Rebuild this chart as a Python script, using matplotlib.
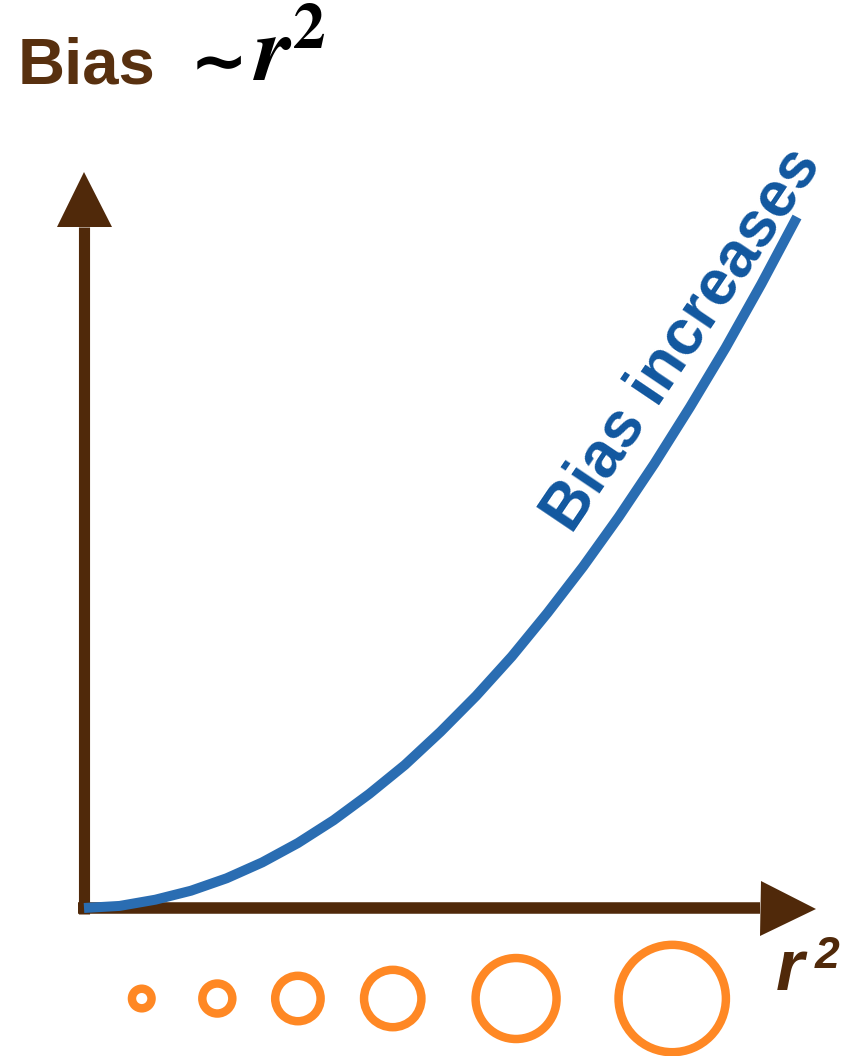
import matplotlib
matplotlib.use("Agg")
import matplotlib.pyplot as plt

# ---- data ----
r_vals = [0.00, 0.05, 0.10, 0.15, 0.20, 0.25, 0.30, 0.35, 0.40, 0.45, 0.50,
          0.55, 0.60, 0.65, 0.70, 0.75, 0.80, 0.85, 0.90, 0.95, 1.00]
bias_vals = [0.000, 0.003, 0.012, 0.025, 0.043, 0.066, 0.094, 0.127, 0.165, 0.207, 0.255,
             0.307, 0.364, 0.427, 0.494, 0.566, 0.643, 0.725, 0.811, 0.903, 1.000]
circle_pos = [0.081, 0.187, 0.300, 0.433, 0.606, 0.825]
circle_diam_pt = [14.1, 21.6, 32.7, 41.3, 58.3, 77.3]
circle_level = -0.131

title_text = "Bias"
title_tilde = "\u223c"
title_math = r"$\mathbfit{r}^{\mathbf{2}}$"
curve_label = "Bias increases"
x_label = "r"
x_label_sup = "2"

BROWN = "#50290A"
TITLE_BROWN = "#58300F"
BLUE = "#2A6DB2"
TEXT_BLUE = "#11579F"
ORANGE = "#FF8824"

W, H = 856, 1056
plt.rcParams["mathtext.fontset"] = "stix"
fig = plt.figure(figsize=(W / 100, H / 100), dpi=100)
ax = fig.add_axes([0, 0, 1, 1])
ax.set_xlim(-84 / 713, (W - 84) / 713)
ax.set_ylim(-(H - 908) / 691, 908 / 691)
ax.axis("off")

# axes with arrows
ax.plot([-0.008, 0.948], [0, 0], color=BROWN, lw=8.3, solid_capstyle="butt", zorder=2)
ax.plot([0, 0], [-0.0087, 0.9855], color=BROWN, lw=8.0, solid_capstyle="butt", zorder=2)
ax.plot([0.9867], [-0.002], marker=">", markersize=39.6, color=BROWN, markeredgewidth=0, zorder=2)
ax.plot([0], [1.026], marker="^", markersize=39.6, color=BROWN, markeredgewidth=0, zorder=2)

# curve
ax.plot(r_vals, bias_vals, color=BLUE, lw=7.2, solid_capstyle="butt",
        solid_joinstyle="round", zorder=3)

# label along the curve
ax.text(0.684, 0.540, curve_label, rotation=56, rotation_mode="anchor",
        ha="left", va="baseline", fontsize=46, fontweight="bold",
        family="Liberation Sans", color=TEXT_BLUE, zorder=4)

# circles
ax.scatter(circle_pos, [circle_level] * len(circle_pos),
           s=[d ** 2 for d in circle_diam_pt], facecolors="none",
           edgecolors=ORANGE, linewidths=6.1, zorder=3)

# title
fig.text(18 / W, 1 - 83 / H, title_text, ha="left", va="baseline",
         fontsize=47, fontweight="bold", family="Liberation Sans", color=TITLE_BROWN)
fig.text(190 / W, 1 - 58 / H, title_tilde, ha="left", va="center_baseline",
         fontsize=50, fontweight="bold", family="DejaVu Sans", color="black")
fig.text(253 / W, 1 - 82 / H, title_math, ha="left", va="baseline",
         fontsize=67, color="black")

# x label
fig.text(776 / W, 1 - 990 / H, x_label, ha="left", va="baseline",
         fontsize=52, fontweight="bold", style="italic", family="Liberation Sans", color=BROWN)
fig.text(815 / W, 1 - 968 / H, x_label_sup, ha="left", va="baseline",
         fontsize=32, fontweight="bold", style="italic", family="Liberation Sans", color=BROWN)

fig.savefig("out.png", dpi=100)
